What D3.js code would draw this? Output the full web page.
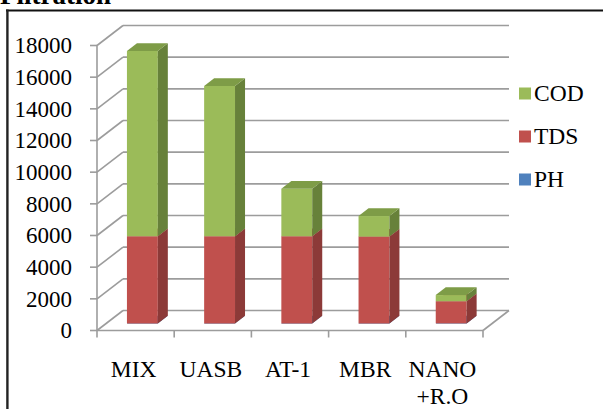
<!DOCTYPE html>
<html><head><meta charset="utf-8">
<script src="https://cdn.jsdelivr.net/npm/d3@7"></script>
<style>html,body{margin:0;padding:0;background:#fff;overflow:hidden}</style>
</head><body>
<svg id="c" width="603" height="409"></svg>
<script>
const categories = ["MIX", "UASB", "AT-1", "MBR", "NANO\n+R.O"];
const seriesNames = ["PH", "TDS", "COD"];
const PH  = [7, 7, 7, 7, 7];
const TDS = [5500, 5500, 5500, 5480, 1400];
const COD = [11700, 9500, 3000, 1300, 390];
const yTicks = [0, 2000, 4000, 6000, 8000, 10000, 12000, 14000, 16000, 18000];
const legendOrder = ["COD", "TDS", "PH"];

const colors = {
  PH:  {front: "#4F81BD", side: "#3A5F8C", top: "#4672A6"},
  TDS: {front: "#C0504D", side: "#8C3A38", top: "#A84543"},
  COD: {front: "#9BBB59", side: "#67813A", top: "#7E9C47"}
};
const seriesVals = {PH, TDS, COD};

const svg = d3.select("#c");
const DX = 26, DY = 20;
const x = d3.scaleBand().domain(categories).range([97, 483]).paddingInner(0).paddingOuter(0);
const y = d3.scaleLinear().domain([0, 18000]).range([330.5, 45.5]);
const P = (px, v, d) => [px + d * DX, y(v) - d * DY];
const grid = "#9C9C9C";
const font = "'Liberation Serif', 'Times New Roman', serif";

// title (cut off at top)
svg.append("text").attr("x", 0).attr("y", 4).attr("font-family", font)
  .attr("font-weight", "bold").attr("font-size", 27).attr("fill", "#000").text("Filtration");

// border
svg.append("line").attr("x1", 6).attr("x2", 603).attr("y1", 10.5).attr("y2", 10.5)
  .attr("stroke", "#111").attr("stroke-width", 2.2);
svg.append("line").attr("x1", 7.4).attr("x2", 7.4).attr("y1", 9.5).attr("y2", 409)
  .attr("stroke", "#222").attr("stroke-width", 2.4);

const x0 = x.range()[0], x1 = x.range()[1];
const g = svg.append("g").attr("stroke", grid).attr("stroke-width", 1.6).attr("fill", "none");
yTicks.forEach(v => {
  const a = P(x0, v, 1), b = P(x1, v, 1), f = P(x0, v, 0);
  g.append("line").attr("x1", a[0]).attr("y1", a[1]).attr("x2", b[0]).attr("y2", b[1]);
  g.append("line").attr("x1", f[0]).attr("y1", f[1]).attr("x2", a[0]).attr("y2", a[1]);
  g.append("line").attr("x1", f[0] - 7).attr("y1", f[1]).attr("x2", f[0]).attr("y2", f[1]);
});
// floor
{
  const fl = P(x0, 0, 0), fr = P(x1, 0, 0), br = P(x1, 0, 1);
  g.append("line").attr("x1", fl[0]).attr("y1", fl[1]).attr("x2", fr[0]).attr("y2", fr[1]);
  g.append("line").attr("x1", fr[0]).attr("y1", fr[1]).attr("x2", br[0]).attr("y2", br[1]);
  const top = P(x0, 18000, 0);
  g.append("line").attr("x1", fl[0]).attr("y1", fl[1]).attr("x2", top[0]).attr("y2", top[1]);
  categories.concat([null]).forEach((c, i) => {
    const px = c === null ? x1 : x(c);
    g.append("line").attr("x1", px).attr("y1", fl[1]).attr("x2", px).attr("y2", fl[1] + 7);
  });
}

// y labels
svg.append("g").selectAll("text").data(yTicks).join("text")
  .attr("x", 72).attr("y", d => y(d)).attr("dy", "0.34em").attr("text-anchor", "end")
  .attr("font-family", font).attr("font-size", 23).attr("fill", "#000").text(d => d);

// bars
const d0 = 0.35, d1 = 0.735;
const bw = x.bandwidth();
const bars = svg.append("g");
categories.forEach((c, i) => {
  const left = x(c) + bw / 2 - 0.23 * bw, right = left + 0.40 * bw;
  let base = 0;
  seriesNames.forEach(s => {
    const v = seriesVals[s][i];
    const lo = base, hi = base + v;
    base = hi;
    const col = colors[s];
    const pt = (px, val, d) => P(px, val, d).join(",");
    bars.append("polygon").attr("fill", col.front)
      .attr("points", [pt(left, lo, d0), pt(right, lo, d0), pt(right, hi, d0), pt(left, hi, d0)].join(" "));
    bars.append("polygon").attr("fill", col.side)
      .attr("points", [pt(right, lo, d0), pt(right, lo, d1), pt(right, hi, d1), pt(right, hi, d0)].join(" "));
    bars.append("polygon").attr("fill", col.top)
      .attr("points", [pt(left, hi, d0), pt(right, hi, d0), pt(right, hi, d1), pt(left, hi, d1)].join(" "));
  });
});

// x labels
const xl = svg.append("g");
categories.forEach(c => {
  const lines = c.split("\n");
  lines.forEach((ln, j) => {
    xl.append("text").attr("x", x(c) + bw / 2 - 2).attr("y", 377 + j * 27)
      .attr("text-anchor", "middle").attr("font-family", font).attr("font-size", 23.5)
      .attr("fill", "#000").text(ln);
  });
});

// legend
const lg = svg.append("g");
legendOrder.forEach((s, i) => {
  const by = 100.5 + i * 43;
  lg.append("rect").attr("x", 519).attr("y", by - 13).attr("width", 12).attr("height", 12)
    .attr("fill", colors[s].front);
  lg.append("text").attr("x", 534).attr("y", by).attr("font-family", font)
    .attr("font-size", 23.5).attr("fill", "#000").text(s);
});
</script>
</body></html>
